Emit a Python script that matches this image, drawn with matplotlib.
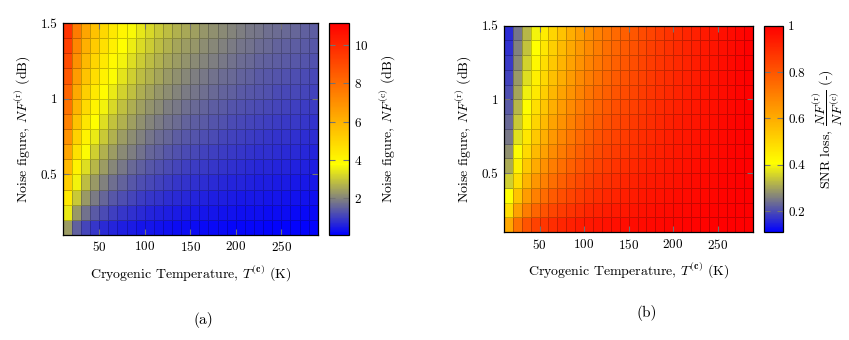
import matplotlib
matplotlib.use("Agg")
import matplotlib.pyplot as plt
import numpy as np
from matplotlib.colors import LinearSegmentedColormap, Normalize

plt.rcParams["font.family"] = "cmr10"
plt.rcParams["mathtext.fontset"] = "cm"
plt.rcParams["axes.formatter.use_mathtext"] = True

# grid of the sweep (cell corners)
t_cryo = [10, 20, 30, 40, 50, 60, 70, 80, 90, 100, 110, 120, 130, 140, 150,
          160, 170, 180, 190, 200, 210, 220, 230, 240, 250, 260, 270, 280, 290]
nf_room = [0.1, 0.2, 0.3, 0.4, 0.5, 0.6, 0.7, 0.8, 0.9, 1.0, 1.1, 1.2, 1.3, 1.4, 1.5]

# (a) cryogenic noise figure NF^(c) in dB, one row per NF^(r), columns = t_cryo
nf_cryo = [
    [2.24, 1.26, 0.88, 0.68, 0.55, 0.46, 0.40, 0.35, 0.31, 0.28, 0.26, 0.24, 0.22, 0.20, 0.19, 0.18, 0.17, 0.16, 0.15, 0.14, 0.14, 0.13, 0.13, 0.12, 0.12, 0.11, 0.11, 0.10, 0.10],
    [3.74, 2.26, 1.63, 1.28, 1.05, 0.89, 0.77, 0.69, 0.61, 0.56, 0.51, 0.47, 0.43, 0.40, 0.38, 0.36, 0.34, 0.32, 0.30, 0.29, 0.27, 0.26, 0.25, 0.24, 0.23, 0.22, 0.21, 0.21, 0.20],
    [4.88, 3.09, 2.28, 1.81, 1.51, 1.29, 1.13, 1.00, 0.90, 0.82, 0.75, 0.69, 0.64, 0.60, 0.56, 0.53, 0.50, 0.47, 0.45, 0.43, 0.41, 0.39, 0.38, 0.36, 0.35, 0.33, 0.32, 0.31, 0.30],
    [5.80, 3.80, 2.86, 2.30, 1.93, 1.66, 1.46, 1.30, 1.18, 1.07, 0.98, 0.91, 0.85, 0.79, 0.74, 0.70, 0.66, 0.63, 0.60, 0.57, 0.54, 0.52, 0.50, 0.48, 0.46, 0.44, 0.43, 0.41, 0.40],
    [6.57, 4.42, 3.38, 2.75, 2.32, 2.01, 1.78, 1.59, 1.44, 1.32, 1.21, 1.12, 1.05, 0.98, 0.92, 0.87, 0.82, 0.78, 0.74, 0.71, 0.68, 0.65, 0.62, 0.60, 0.57, 0.55, 0.53, 0.52, 0.50],
    [7.24, 4.98, 3.86, 3.17, 2.69, 2.35, 2.08, 1.87, 1.70, 1.55, 1.43, 1.33, 1.24, 1.16, 1.09, 1.03, 0.98, 0.93, 0.89, 0.85, 0.81, 0.77, 0.74, 0.72, 0.69, 0.66, 0.64, 0.62, 0.60],
    [7.83, 5.49, 4.30, 3.56, 3.04, 2.66, 2.37, 2.13, 1.94, 1.78, 1.65, 1.53, 1.43, 1.34, 1.27, 1.20, 1.13, 1.08, 1.03, 0.98, 0.94, 0.90, 0.87, 0.83, 0.80, 0.77, 0.75, 0.72, 0.70],
    [8.37, 5.95, 4.71, 3.92, 3.37, 2.96, 2.64, 2.39, 2.18, 2.00, 1.86, 1.73, 1.62, 1.52, 1.43, 1.36, 1.29, 1.23, 1.17, 1.12, 1.07, 1.03, 0.99, 0.95, 0.92, 0.88, 0.85, 0.83, 0.80],
    [8.85, 6.37, 5.09, 4.26, 3.68, 3.25, 2.91, 2.64, 2.41, 2.22, 2.06, 1.92, 1.80, 1.69, 1.60, 1.51, 1.44, 1.37, 1.31, 1.25, 1.20, 1.15, 1.11, 1.07, 1.03, 0.99, 0.96, 0.93, 0.90],
    [9.30, 6.77, 5.44, 4.59, 3.98, 3.52, 3.17, 2.87, 2.63, 2.43, 2.26, 2.11, 1.98, 1.86, 1.76, 1.67, 1.59, 1.51, 1.45, 1.38, 1.33, 1.28, 1.23, 1.18, 1.14, 1.10, 1.07, 1.03, 1.00],
    [9.71, 7.14, 5.78, 4.90, 4.27, 3.79, 3.41, 3.11, 2.85, 2.64, 2.46, 2.30, 2.16, 2.03, 1.92, 1.83, 1.74, 1.66, 1.58, 1.52, 1.46, 1.40, 1.35, 1.30, 1.25, 1.21, 1.17, 1.13, 1.10],
    [10.10, 7.49, 6.10, 5.19, 4.54, 4.05, 3.65, 3.33, 3.07, 2.84, 2.65, 2.48, 2.33, 2.20, 2.08, 1.98, 1.88, 1.80, 1.72, 1.65, 1.58, 1.52, 1.47, 1.41, 1.36, 1.32, 1.28, 1.24, 1.20],
    [10.46, 7.82, 6.41, 5.48, 4.81, 4.29, 3.88, 3.55, 3.27, 3.04, 2.83, 2.66, 2.50, 2.36, 2.24, 2.13, 2.03, 1.94, 1.85, 1.78, 1.71, 1.64, 1.58, 1.53, 1.48, 1.43, 1.38, 1.34, 1.30],
    [10.80, 8.14, 6.70, 5.75, 5.06, 4.53, 4.11, 3.76, 3.47, 3.23, 3.02, 2.83, 2.67, 2.52, 2.39, 2.28, 2.17, 2.08, 1.99, 1.91, 1.83, 1.77, 1.70, 1.64, 1.59, 1.54, 1.49, 1.44, 1.40],
    [11.13, 8.44, 6.98, 6.01, 5.31, 4.76, 4.33, 3.97, 3.67, 3.42, 3.20, 3.00, 2.83, 2.68, 2.55, 2.42, 2.31, 2.21, 2.12, 2.04, 1.96, 1.89, 1.82, 1.76, 1.70, 1.64, 1.59, 1.55, 1.50],
]

# (b) SNR loss NF^(r)/NF^(c) (linear), same layout
snr_loss = [
    [0.611, 0.765, 0.835, 0.875, 0.902, 0.920, 0.933, 0.944, 0.952, 0.959, 0.964, 0.969, 0.973, 0.976, 0.979, 0.982, 0.984, 0.986, 0.988, 0.990, 0.991, 0.993, 0.994, 0.995, 0.996, 0.997, 0.998, 0.999, 1.000],
    [0.442, 0.622, 0.719, 0.780, 0.822, 0.853, 0.876, 0.894, 0.909, 0.921, 0.931, 0.940, 0.948, 0.954, 0.960, 0.965, 0.969, 0.973, 0.977, 0.980, 0.983, 0.986, 0.988, 0.991, 0.993, 0.995, 0.997, 0.998, 1.000],
    [0.349, 0.526, 0.634, 0.706, 0.757, 0.796, 0.827, 0.851, 0.871, 0.887, 0.902, 0.914, 0.924, 0.933, 0.941, 0.949, 0.955, 0.961, 0.966, 0.971, 0.975, 0.979, 0.983, 0.986, 0.989, 0.992, 0.995, 0.998, 1.000],
    [0.289, 0.457, 0.567, 0.645, 0.703, 0.748, 0.783, 0.812, 0.836, 0.857, 0.874, 0.889, 0.902, 0.914, 0.924, 0.933, 0.942, 0.949, 0.956, 0.962, 0.968, 0.973, 0.978, 0.982, 0.986, 0.990, 0.994, 0.997, 1.000],
    [0.247, 0.405, 0.515, 0.595, 0.657, 0.706, 0.745, 0.778, 0.805, 0.829, 0.849, 0.867, 0.882, 0.896, 0.908, 0.919, 0.929, 0.938, 0.946, 0.953, 0.960, 0.967, 0.972, 0.978, 0.983, 0.988, 0.992, 0.996, 1.000],
    [0.217, 0.365, 0.472, 0.554, 0.618, 0.669, 0.711, 0.747, 0.777, 0.803, 0.826, 0.845, 0.863, 0.879, 0.893, 0.905, 0.917, 0.927, 0.936, 0.945, 0.953, 0.961, 0.967, 0.974, 0.980, 0.985, 0.991, 0.995, 1.000],
    [0.193, 0.332, 0.437, 0.518, 0.583, 0.637, 0.681, 0.719, 0.751, 0.780, 0.804, 0.826, 0.845, 0.862, 0.878, 0.892, 0.905, 0.917, 0.927, 0.937, 0.946, 0.955, 0.963, 0.970, 0.977, 0.983, 0.989, 0.995, 1.000],
    [0.175, 0.306, 0.407, 0.487, 0.553, 0.608, 0.654, 0.694, 0.728, 0.758, 0.784, 0.808, 0.828, 0.847, 0.864, 0.880, 0.894, 0.907, 0.919, 0.930, 0.940, 0.949, 0.958, 0.966, 0.974, 0.981, 0.988, 0.994, 1.000],
    [0.160, 0.284, 0.381, 0.461, 0.527, 0.582, 0.630, 0.671, 0.706, 0.738, 0.766, 0.790, 0.813, 0.833, 0.851, 0.868, 0.883, 0.897, 0.910, 0.922, 0.933, 0.944, 0.953, 0.962, 0.971, 0.979, 0.986, 0.993, 1.000],
    [0.148, 0.265, 0.359, 0.438, 0.503, 0.559, 0.607, 0.649, 0.686, 0.719, 0.748, 0.774, 0.798, 0.819, 0.839, 0.857, 0.873, 0.888, 0.902, 0.915, 0.927, 0.939, 0.949, 0.959, 0.968, 0.977, 0.985, 0.993, 1.000],
    [0.138, 0.249, 0.340, 0.417, 0.482, 0.538, 0.587, 0.630, 0.668, 0.702, 0.732, 0.759, 0.784, 0.807, 0.827, 0.846, 0.864, 0.880, 0.895, 0.909, 0.921, 0.934, 0.945, 0.955, 0.965, 0.975, 0.984, 0.992, 1.000],
    [0.129, 0.235, 0.323, 0.399, 0.463, 0.519, 0.569, 0.612, 0.651, 0.686, 0.717, 0.745, 0.771, 0.795, 0.816, 0.836, 0.854, 0.871, 0.887, 0.902, 0.916, 0.929, 0.941, 0.952, 0.963, 0.973, 0.982, 0.992, 1.000],
    [0.121, 0.223, 0.308, 0.382, 0.446, 0.502, 0.552, 0.596, 0.635, 0.670, 0.703, 0.732, 0.759, 0.783, 0.806, 0.826, 0.846, 0.864, 0.880, 0.896, 0.910, 0.924, 0.937, 0.949, 0.960, 0.971, 0.981, 0.991, 1.000],
    [0.115, 0.212, 0.295, 0.367, 0.431, 0.486, 0.536, 0.580, 0.620, 0.656, 0.689, 0.719, 0.747, 0.772, 0.795, 0.817, 0.837, 0.856, 0.873, 0.890, 0.905, 0.919, 0.933, 0.946, 0.958, 0.969, 0.980, 0.990, 1.000],
    [0.109, 0.202, 0.283, 0.354, 0.416, 0.472, 0.521, 0.566, 0.606, 0.643, 0.677, 0.707, 0.736, 0.762, 0.786, 0.808, 0.829, 0.849, 0.867, 0.884, 0.900, 0.915, 0.929, 0.943, 0.955, 0.967, 0.979, 0.990, 1.000],
]

x_ticks = [50, 100, 150, 200, 250]
y_ticks = [0.5, 1.0, 1.5]
y_ticklabels = ["0.5", "1", "1.5"]
cb_ticks_a = [2, 4, 6, 8, 10]
cb_ticks_b = [0.2, 0.4, 0.6, 0.8, 1.0]
cb_ticklabels_b = ["0.2", "0.4", "0.6", "0.8", "1"]

# pgfplots "hot": blue -> yellow -> orange -> red
hot = LinearSegmentedColormap.from_list(
    "pgf_hot", [(0, (0, 0, 1)), (1 / 3, (1, 1, 0)), (2 / 3, (1, 0.5, 0)), (1, (1, 0, 0))])

TICK_C = "0.45"


def flat_mean(v):
    # pgfplots "shader=flat mean": each cell coloured by the mean of its 4 corners
    v = np.asarray(v, dtype=float)
    return (v[:-1, :-1] + v[1:, :-1] + v[:-1, 1:] + v[1:, 1:]) / 4.0


def panel(fig, ax_rect, cb_rect, data, cb_ticks, cb_labels, cb_label, cb_pad):
    ax = fig.add_axes(ax_rect)
    cax = fig.add_axes(cb_rect)
    v = np.asarray(data, dtype=float)
    norm = Normalize(vmin=v.min(), vmax=v.max())
    m = ax.pcolormesh(t_cryo, nf_room, flat_mean(v), cmap=hot, norm=norm,
                      shading="flat", edgecolors=(0, 0, 0, 0.22), linewidth=0.5)
    ax.set_xlim(t_cryo[0], t_cryo[-1]); ax.set_ylim(nf_room[0], nf_room[-1])
    ax.set_xticks(x_ticks)
    ax.set_yticks(y_ticks); ax.set_yticklabels(y_ticklabels)
    ax.tick_params(direction="in", top=True, right=True, length=4, width=0.8,
                   color=TICK_C, labelsize=9.5, pad=4)
    ax.set_xlabel(r"Cryogenic Temperature, $T^{(\mathbf{c})}$ (K)", fontsize=10, labelpad=6)
    ax.set_ylabel(r"Noise figure, $NF^{(\mathrm{r})}$ (dB)", fontsize=10, labelpad=6)
    for s in ax.spines.values():
        s.set_linewidth(0.9)

    cb = fig.colorbar(m, cax=cax)
    cb.set_ticks(cb_ticks)
    if cb_labels is not None:
        cb.set_ticklabels(cb_labels)
    cax.tick_params(direction="in", left=True, right=True, length=4, width=0.8,
                    color=TICK_C, labelsize=9.5, pad=4)
    cb.outline.set_linewidth(0.9)
    cb.set_label(cb_label, fontsize=10, labelpad=cb_pad)
    return ax


fig = plt.figure(figsize=(8.49, 3.40), dpi=100)

panel(fig, [0.0739, 0.309, 0.3004, 0.6235], [0.3875, 0.309, 0.0230, 0.6235],
      nf_cryo, cb_ticks_a, None, r"Noise figure, $NF^{(\mathrm{c})}$ (dB)", 6)
panel(fig, [0.5936, 0.317, 0.2936, 0.6076], [0.8999, 0.317, 0.0218, 0.6076],
      snr_loss, cb_ticks_b, cb_ticklabels_b,
      r"SNR loss, $\dfrac{NF^{(\mathrm{r})}}{NF^{(\mathrm{c})}}$ (-)", 4)

fig.text(203 / 849, 1 - 320 / 340, "(a)", ha="center", va="center", fontsize=11)
fig.text(647 / 849, 1 - 313 / 340, "(b)", ha="center", va="center", fontsize=11)

fig.savefig("out.png", dpi=100)
